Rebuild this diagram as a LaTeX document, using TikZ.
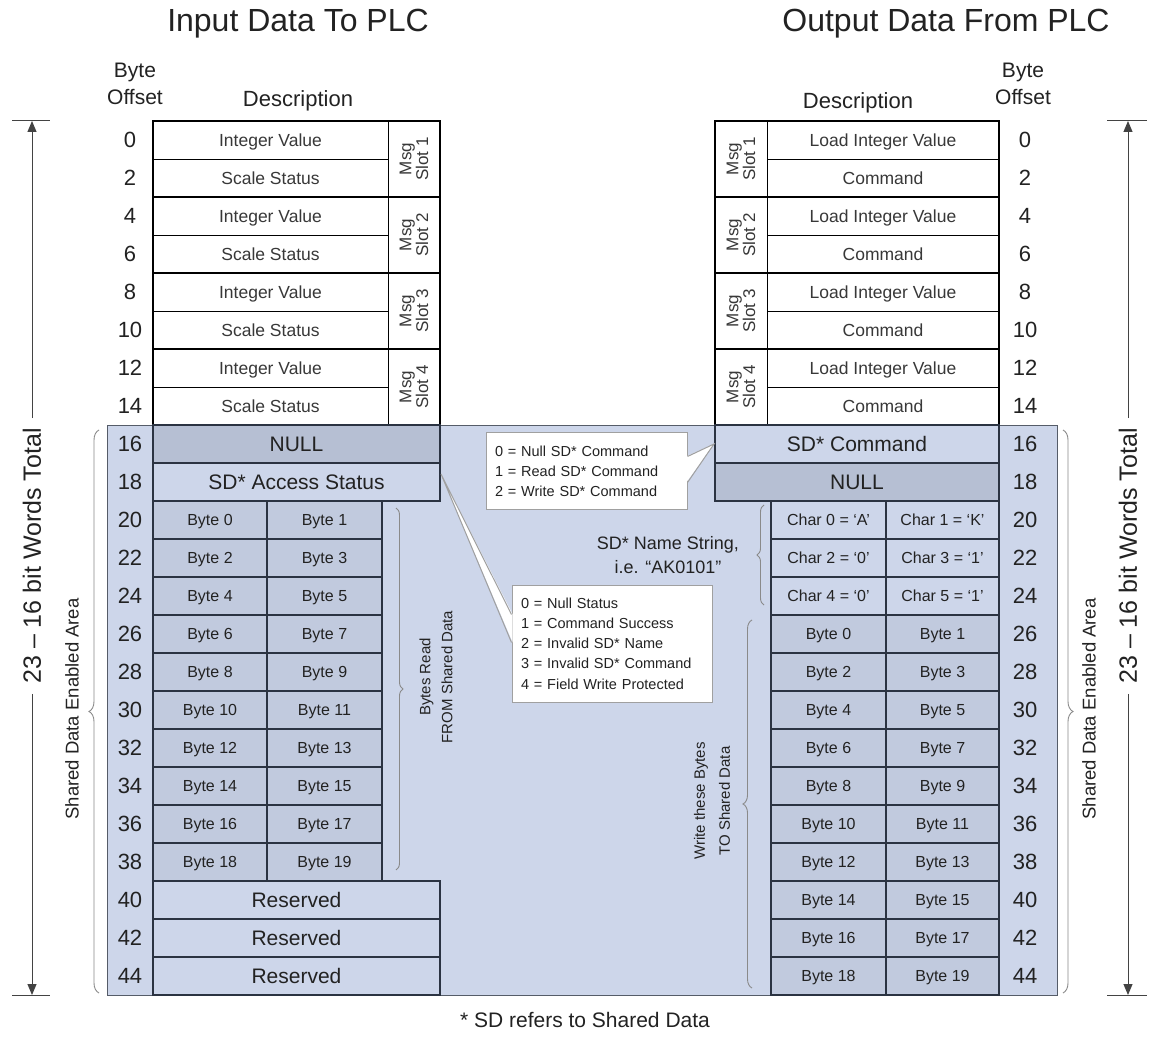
\documentclass[tikz,border=0pt]{standalone}
\usepackage{fontspec}
\setmainfont{Liberation Sans}
\usetikzlibrary{decorations.pathreplacing,calc,arrows.meta}
\definecolor{bgblue}{HTML}{CDD6EA}
\definecolor{cellblue}{HTML}{C1CADE}
\definecolor{nullblue}{HTML}{B6BFD3}
\definecolor{ink}{HTML}{222222}
\definecolor{edge}{HTML}{2B3342}
\definecolor{bracegray}{HTML}{8A8A8A}
\definecolor{callgray}{HTML}{A0A0A0}
\newcommand\mkcell[7]{\node[#1, minimum width={#5-#3}, minimum height={#6-#4}] (#2) at ({(#3+#5)/2},{(#4+#6)/2}) {#7};}
\newcommand\fs[2]{\fontsize{#1}{#2}\selectfont}
\begin{document}
\begin{tikzpicture}[x=1pt,y=-1pt,
  every node/.style={text=ink},
  wcell/.style={draw=black, line width=0.9pt, fill=white, inner sep=0pt, outer sep=0pt, font=\fs{17.5}{20}, text=ink!90, text height=12.6pt, text depth=0pt},
  slotcell/.style={draw=black, line width=0.9pt, fill=white, inner sep=0pt, outer sep=0pt, font=\fs{17}{15}, text=ink!90, align=center},
  bcell/.style={draw=edge, line width=1.1pt, fill=bgblue, inner sep=0pt, outer sep=0pt, font=\fs{21}{24}, text height=15.1pt, text depth=0pt},
  ncell/.style={bcell, fill=nullblue},
  bytecell/.style={bcell, fill=cellblue, font=\fs{16}{18}, text height=11.5pt},
  charcell/.style={bcell, font=\fs{16}{18}, text height=11.5pt},
  num/.style={inner sep=0pt, font=\fs{22}{24}, text height=15.8pt, text depth=0pt},
  head/.style={inner sep=0pt, font=\fs{32}{36}},
  sub/.style={inner sep=0pt, font=\fs{21}{27}, align=center},
  bracestyle/.style={draw=bracegray, line width=0.9pt, decorate, decoration={brace, amplitude=#1}},
  vlabel/.style={rotate=90, inner sep=0pt, align=center},
  callbox/.style={draw=callgray, line width=1pt, fill=white, inner xsep=9pt, inner ysep=0pt, align=left, font=\fs{14.5}{20.3}},
  dimline/.style={draw=ink!85, line width=1pt},
  dimarrow/.style={dimline, -{Triangle[length=11pt,width=9pt]}}
]
\useasboundingbox (0,0) rectangle (1152,1040);
\fill[white] (0,0) rectangle (1152,1040);

% shared data area
\node[draw=edge!80, line width=0.9pt, fill=bgblue, minimum width=950, minimum height=570, inner sep=0pt, outer sep=0pt] (area) at (582,710) {};

% headings
\node[head] (tin) at (298,24) {Input Data To PLC};
\node[head] (tout) at (946,24) {Output Data From PLC};
\node[sub] (boL) at (135,84) {Byte\\Offset};
\node[sub] (boR) at (1023,84) {Byte\\Offset};
\node[sub, font=\fs{22}{26}] (dL) at (298,101) {Description};
\node[sub, font=\fs{22}{26}] (dR) at (858,103) {Description};
\node[sub, font=\fs{21}{24}] (foot) at (585,1020) {* SD refers to Shared Data};

% white tables
\foreach \k in {0,...,7}{
  \pgfmathsetmacro\yt{121+38*\k}
  \pgfmathsetmacro\yb{\yt+38}
  \pgfmathtruncatemacro\odd{mod(\k,2)}
  \ifnum\odd=0 \def\celltxt{Integer Value}\else\def\celltxt{Scale Status}\fi
  \mkcell{wcell}{ld\k}{153}{\yt}{388}{\yb}{\celltxt}
  \ifnum\odd=0 \def\celltxt{Load Integer Value}\else\def\celltxt{Command}\fi
  \mkcell{wcell}{rd\k}{767}{\yt}{999}{\yb}{\celltxt}
}
\foreach \s in {1,...,4}{
  \pgfmathsetmacro\yc{159+76*(\s-1)}
  \node[slotcell, rotate=90, minimum width=76, minimum height=52] (ls\s) at (414,\yc) {Msg\\Slot \s};
  \node[slotcell, rotate=90, minimum width=76, minimum height=52] (rs\s) at (741,\yc) {Msg\\Slot \s};
  \pgfmathsetmacro\yt{121+76*(\s-1)}
  \draw[line width=2.2pt, black] (153,\yt) rectangle (440,\yt+76);
  \draw[line width=2.2pt, black] (715,\yt) rectangle (999,\yt+76);
}

% left shared cells
\mkcell{ncell}{lnull}{153}{425}{440}{463}{NULL}
\mkcell{bcell}{acc}{153}{463}{440}{501}{SD* Access Status}
\foreach \j in {0,...,9}{
  \pgfmathsetmacro\yt{501+38*\j}
  \pgfmathsetmacro\yb{\yt+38}
  \pgfmathtruncatemacro\ba{2*\j}
  \pgfmathtruncatemacro\bb{2*\j+1}
  \mkcell{bytecell}{lb\ba}{153}{\yt}{267}{\yb}{Byte \ba}
  \mkcell{bytecell}{lb\bb}{267}{\yt}{382}{\yb}{Byte \bb}
  \pgfmathsetmacro\yt{615+38*\j}
  \pgfmathsetmacro\yb{\yt+38}
  \mkcell{bytecell}{rb\ba}{771}{\yt}{886}{\yb}{Byte \ba}
  \mkcell{bytecell}{rb\bb}{886}{\yt}{999}{\yb}{Byte \bb}
}
\mkcell{bcell}{res1}{153}{881}{440}{919}{Reserved}
\mkcell{bcell}{res2}{153}{919}{440}{957}{Reserved}
\mkcell{bcell}{res3}{153}{957}{440}{995}{Reserved}

% right shared cells
\mkcell{bcell}{sdc}{715}{425}{999}{463}{SD* Command}
\mkcell{ncell}{rnull}{715}{463}{999}{501}{NULL}
\mkcell{charcell}{ch0}{771}{501}{886}{539}{Char 0 = ‘A’}
\mkcell{charcell}{ch1}{886}{501}{999}{539}{Char 1 = ‘K’}
\mkcell{charcell}{ch2}{771}{539}{886}{577}{Char 2 = ‘0’}
\mkcell{charcell}{ch3}{886}{539}{999}{577}{Char 3 = ‘1’}
\mkcell{charcell}{ch4}{771}{577}{886}{615}{Char 4 = ‘0’}
\mkcell{charcell}{ch5}{886}{577}{999}{615}{Char 5 = ‘1’}

% offset numbers
\foreach \k in {0,...,22}{
  \pgfmathtruncatemacro\off{2*\k}
  \pgfmathsetmacro\yc{140+38*\k}
  \node[num] (nl\k) at (130,\yc) {\off};
  \node[num] (nr\k) at (1025,\yc) {\off};
}

% braces
\coordinate (bLt) at (99,430);  \coordinate (bLb) at (99,993);
\coordinate (bRt) at (1063,430); \coordinate (bRb) at (1063,993);
\coordinate (brt) at (396,508); \coordinate (brb) at (396,870);
\coordinate (bnt) at (764,505); \coordinate (bnb) at (764,605);
\coordinate (bwt) at (752,620); \coordinate (bwb) at (752,988);
\draw[bracestyle=10pt] (bLb) -- (bLt);
\draw[bracestyle=10pt] (bRt) -- (bRb);
\draw[bracestyle=7pt] (brt) -- (brb);
\draw[bracestyle=7pt] (bnb) -- (bnt);
\draw[bracestyle=9pt] (bwb) -- (bwt);

\node[vlabel, font=\fs{18.5}{20}] (sdaL) at (72,709) {Shared Data Enabled Area};
\node[vlabel, font=\fs{18.5}{20}] (sdaR) at (1089,709) {Shared Data Enabled Area};
\node[vlabel, font=\fs{15}{22}] (brd) at (436,677) {Bytes Read\\FROM Shared Data};
\node[vlabel, font=\fs{15}{25}] (wtb) at (712,801) {Write these Bytes\\TO Shared Data};
\node[inner sep=0pt, align=center, font=\fs{18}{24}] (nstr) at (668,555) {SD* Name String,\\i.e. “AK0101”};

% callouts
\node[callbox, text width=183pt, minimum height=77] (c1) at (586.5,471.5) {0 = Null SD* Command\\1 = Read SD* Command\\2 = Write SD* Command};
\coordinate (t1) at (714,444);
\fill[white] ($(c1.north east)+(-1.2,24)$) -- (t1) -- ($(c1.north east)+(-1.2,50)$) -- cycle;
\draw[callgray, line width=1pt] ($(c1.north east)+(0,24)$) -- (t1) -- ($(c1.north east)+(0,50)$);

\node[callbox, text width=182pt, minimum height=117] (c2) at (612,643.5) {0 = Null Status\\1 = Command Success\\2 = Invalid SD* Name\\3 = Invalid SD* Command\\4 = Field Write Protected};
\coordinate (t2) at (441,474);
\fill[white] ($(c2.north west)+(1.2,30)$) -- (t2) -- ($(c2.north west)+(1.2,58)$) -- cycle;
\draw[callgray, line width=1pt] ($(c2.north west)+(0,30)$) -- (t2) -- ($(c2.north west)+(0,58)$);

% dimension arrows
\coordinate (dLt) at (32,121); \coordinate (dLb) at (32,995);
\coordinate (dRt) at (1128,121); \coordinate (dRb) at (1128,995);
\draw[dimline] (12,121) -- (50,121);
\draw[dimline] (12,995) -- (50,995);
\draw[dimline] (1107,121) -- (1147,121);
\draw[dimline] (1107,995) -- (1147,995);
\node[vlabel, font=\fs{25}{28}, inner sep=10pt] (dimL) at (32,556) {23 – 16 bit Words Total};
\node[vlabel, font=\fs{25}{28}, inner sep=10pt] (dimR) at (1128,556) {23 – 16 bit Words Total};
\draw[dimarrow] (dimL.east) -- (dLt);
\draw[dimarrow] (dimL.west) -- (dLb);
\draw[dimarrow] (dimR.east) -- (dRt);
\draw[dimarrow] (dimR.west) -- (dRb);
\end{tikzpicture}
\end{document}
